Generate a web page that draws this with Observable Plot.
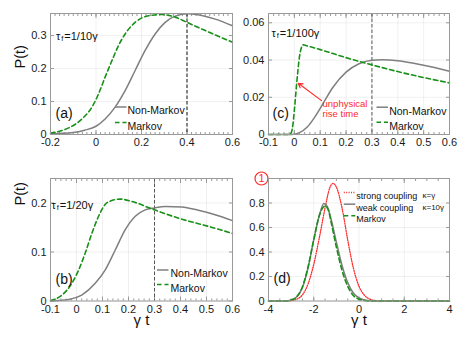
<!DOCTYPE html>
<html><head><meta charset="utf-8">
<script src="https://cdn.jsdelivr.net/npm/d3@7"></script>
<script src="https://cdn.jsdelivr.net/npm/@observablehq/plot@0.6"></script>
<style>
body{margin:0;background:#fff;}
#fig{position:relative;width:463px;height:350px;overflow:hidden;background:#fff;}
#fig svg{position:absolute;}
</style></head><body><div id="fig"></div>
<script>
// ---------- Panel (a): tau_f = 1/10 gamma ----------
const xTicksA = [-0.2, 0, 0.2, 0.4, 0.6];
const yTicksA = [0, 0.1, 0.2, 0.3];
const tNonMarkovA = [-0.2,-0.1,-0.05,0,0.04,0.084,0.128,0.172,0.216,0.26,0.304,0.348,0.407,0.465,0.524,0.6];
const pNonMarkovA = [0.002,0.006,0.013,0.025,0.047,0.083,0.133,0.194,0.255,0.305,0.34,0.359,0.366,0.361,0.35,0.33];
const tMarkovA = [-0.2,-0.16,-0.12,-0.062,-0.018,0.011,0.04,0.07,0.099,0.128,0.172,0.23,0.289,0.348,0.4,0.465,0.524,0.6];
const pMarkovA = [0.004,0.01,0.02,0.047,0.083,0.123,0.174,0.224,0.27,0.305,0.34,0.36,0.364,0.356,0.34,0.32,0.302,0.28];
const markerA = [0.4];

// ---------- Panel (b): tau_f = 1/20 gamma ----------
const xTicksB = [-0.1, 0, 0.1, 0.2, 0.3, 0.4, 0.5, 0.6];
const yTicksB = [0, 0.1, 0.2];
const tNonMarkovB = [-0.1,-0.03,0.02,0.072,0.11,0.149,0.187,0.226,0.264,0.3,0.341,0.405,0.469,0.533,0.6];
const pNonMarkovB = [0,0.003,0.012,0.036,0.063,0.104,0.145,0.173,0.186,0.19,0.193,0.192,0.185,0.176,0.164];
const tMarkovB = [-0.1,-0.056,-0.018,0.008,0.033,0.059,0.085,0.11,0.136,0.168,0.213,0.3,0.405,0.51,0.6];
const pMarkovB = [0.001,0.012,0.036,0.063,0.097,0.138,0.173,0.197,0.205,0.208,0.203,0.186,0.167,0.152,0.138];
const markerB = [0.3];

// ---------- Panel (c): tau_f = 1/100 gamma ----------
const xTicksC = [-0.1, 0, 0.1, 0.2, 0.3, 0.4, 0.5, 0.6];
const yTicksC = [0, 0.02, 0.04, 0.06];
const tNonMarkovC = [-0.1,-0.01,0.02,0.05,0.075,0.1,0.125,0.15,0.2,0.25,0.3,0.34,0.4,0.5,0.6];
const pNonMarkovC = [0,0,0.001,0.004,0.0085,0.014,0.02,0.0255,0.0335,0.038,0.0399,0.0401,0.0396,0.0372,0.034];
const tMarkovC = [-0.1,-0.02,-0.012,-0.005,0,0.005,0.01,0.015,0.02,0.027,0.035,0.045,0.1,0.2,0.3,0.4,0.5,0.6];
const pMarkovC = [0,0,0.001,0.006,0.013,0.021,0.029,0.036,0.042,0.0465,0.0482,0.0478,0.0456,0.0413,0.0374,0.0338,0.0306,0.0277];
const markerC = [0.3];
const arrowTailC = [0.105, 0.0182];
const arrowTipC = [0.015, 0.0275];
const noteC = "unphysical\nrise time";
const notePosC = [0.109, 0.0139];

// ---------- Panel (d): coupling comparison ----------
const xTicksD = [-4, -2, 0, 2, 4];
const yTicksD = [0, 0.2, 0.4, 0.6, 0.8];
const yTickCircledD = [1];
const tStrongD = [-4,-3.2,-3,-2.75,-2.5,-2.25,-2,-1.75,-1.5,-1.3,-1.15,-1,-0.75,-0.5,-0.25,0,0.25,0.5,0.75,1,4];
const pStrongD = [0,0,0.003,0.015,0.05,0.14,0.3,0.52,0.76,0.92,0.96,0.93,0.76,0.5,0.27,0.12,0.045,0.013,0.003,0,0];
const tWeakD = [-4,-3.25,-3,-2.75,-2.5,-2.25,-2,-1.75,-1.55,-1.4,-1.25,-1,-0.75,-0.5,-0.25,0,0.25,0.5,1,4];
const pWeakD = [0,0,0.008,0.035,0.11,0.27,0.5,0.7,0.795,0.77,0.68,0.48,0.29,0.15,0.065,0.025,0.008,0.002,0,0];
const tMarkovD = [-4,-3.25,-3,-2.75,-2.5,-2.25,-2,-1.75,-1.5,-1.35,-1.25,-1,-0.75,-0.5,-0.25,0,0.25,0.5,4];
const pMarkovD = [0,0,0.008,0.035,0.115,0.28,0.5,0.7,0.775,0.74,0.66,0.44,0.25,0.12,0.045,0.015,0.004,0,0];

// ---------- styling ----------
const FONT = "'Liberation Sans', Arial, Helvetica, sans-serif";
const GRAY = "#7f7f7f", GREEN = "#179017", RED = "#ff2a2a";
const grayStyle = {stroke: GRAY, strokeWidth: 1.5};
const greenStyle = {stroke: GREEN, strokeWidth: 1.6, strokeDasharray: "4.5,3"};
const redStyle = {stroke: RED, strokeWidth: 1.3, strokeDasharray: "1,1.4"};

const rows = (ts, ps) => ts.map((t, i) => ({t, p: ps[i]}));
const fmt = d => String(d);
const hline = {draw(ctx, l) { ctx.moveTo(0, 0); ctx.lineTo(l, 0); }};

function legendSample(dx, dy, style) {
  return Plot.vector([0], {frameAnchor: "top-left", dx, dy, length: 11.5, rotate: 0, anchor: "start",
    shape: hline, strokeLinecap: "butt", ...style});
}
function label(text, dx, dy, opts = {}) {
  return Plot.text([text], {frameAnchor: "top-left", dx, dy, text: d => d, textAnchor: "start",
    fontSize: 10.5, fill: "#111", ...opts});
}
function tauLabel(rest, dx, dy) {
  return [
    label("τ", dx, dy, {fontSize: 11}),
    label("f", dx + 5.3, dy + 3.5, {fontSize: 7.5}),
    label(rest, dx + 8.3, dy, {fontSize: 11})
  ];
}
function minor(domain, step) {
  return d3.range(Math.ceil(domain[0] / step - 1e-9), Math.floor(domain[1] / step + 1e-9) + 1).map(k => +(k * step).toFixed(6));
}

function panel(cfg) {
  const {left, top, width, height, mL, mR, mT, mB, xDomain, yDomain, xTicks, yTicks, xStep, marks} = cfg;
  const xMinor = minor(xDomain, xStep);
  const svg = Plot.plot({
    width, height, marginLeft: mL, marginRight: mR, marginTop: mT, marginBottom: mB,
    x: {domain: xDomain, label: null},
    y: {domain: yDomain, label: null},
    style: {fontFamily: FONT, background: "transparent", overflow: "visible", maxWidth: "none",
      left: left + "px", top: top + "px"},
    marks: [
      Plot.gridX(xTicks, {stroke: "#000", strokeOpacity: 0.06}),
      Plot.gridY(yTicks, {stroke: "#000", strokeOpacity: 0.06}),
      Plot.axisX(xMinor, {anchor: "bottom", tickSize: -2, tickFormat: () => "", stroke: "#999", label: null}),
      Plot.axisX(xMinor, {anchor: "top", tickSize: -2, tickFormat: () => "", stroke: "#999", label: null}),
      Plot.axisX(xTicks, {anchor: "top", tickSize: -4, tickFormat: () => "", stroke: "#999", label: null}),
      Plot.axisY(yTicks, {anchor: "right", tickSize: -4, tickFormat: () => "", stroke: "#999", label: null}),
      Plot.axisX(xTicks, {anchor: "bottom", tickSize: -4, tickPadding: 8, tickFormat: fmt, stroke: "#999",
        fill: "#1a1a1a", fontSize: 11, label: null}),
      Plot.axisY(yTicks, {anchor: "left", tickSize: -4, tickPadding: 8, tickFormat: fmt, stroke: "#999",
        fill: "#1a1a1a", fontSize: 11, label: null}),
      ...marks,
      Plot.frame({stroke: "#9a9a9a"})
    ]
  });
  document.getElementById("fig").appendChild(svg);
}

const vrule = (xs, color) => Plot.ruleX(xs, {stroke: color, strokeWidth: 1, strokeDasharray: "3.5,2"});
const yLabel = dy => Plot.text(["P(t)"], {frameAnchor: "top-left", dx: -36, dy, text: d => d, rotate: -90,
  fontSize: 14.5, fill: "#111"});
const xLabel = Plot.text(["γ t"], {frameAnchor: "bottom", dy: 24, text: d => d, fontSize: 15, fill: "#111"});

// (a)
panel({left: 0, top: 0, width: 236, height: 160, mL: 50, mR: 4, mT: 13, mB: 26,
  xDomain: [-0.2, 0.6], yDomain: [0, 0.367], xTicks: xTicksA, yTicks: yTicksA, xStep: 0.02,
  marks: [
    vrule(markerA, "#111"),
    Plot.line(rows(tNonMarkovA, pNonMarkovA), {x: "t", y: "p", curve: "monotone-x", ...grayStyle}),
    Plot.line(rows(tMarkovA, pMarkovA), {x: "t", y: "p", curve: "monotone-x", ...greenStyle}),
    yLabel(55),
    ...tauLabel("=1/10γ", 5.5, 19),
    label("(a)", 5, 95, {fontSize: 14}),
    legendSample(64.5, 93.5, grayStyle),
    legendSample(64.5, 109, greenStyle),
    label("Non-Markov", 77, 93.5),
    label("Markov", 77, 109)
  ]});

// (c)
panel({left: 236, top: 0, width: 227, height: 160, mL: 32, mR: 14, mT: 13, mB: 26,
  xDomain: [-0.1, 0.6], yDomain: [0, 0.065], xTicks: xTicksC, yTicks: yTicksC, xStep: 0.02,
  marks: [
    vrule(markerC, "#555"),
    Plot.line(rows(tNonMarkovC, pNonMarkovC), {x: "t", y: "p", curve: "monotone-x", ...grayStyle}),
    Plot.line(rows(tMarkovC, pMarkovC), {x: "t", y: "p", curve: "monotone-x", ...greenStyle}),
    Plot.arrow([0], {x1: arrowTailC[0], y1: arrowTailC[1], x2: arrowTipC[0], y2: arrowTipC[1],
      stroke: RED, strokeWidth: 1.2, headLength: 6}),
    Plot.text([noteC], {x: notePosC[0], y: notePosC[1], text: d => d, textAnchor: "start",
      fontSize: 9.5, lineHeight: 1.1, fill: RED}),
    ...tauLabel("=1/100γ", 3, 15.5),
    label("(c)", 4, 95, {fontSize: 14}),
    legendSample(108, 93.7, grayStyle),
    legendSample(108, 108.7, greenStyle),
    label("Non-Markov", 120.7, 93.7),
    label("Markov", 120.7, 108.7)
  ]});

// (b)
panel({left: 0, top: 160, width: 236, height: 190, mL: 50, mR: 4, mT: 18, mB: 49.5,
  xDomain: [-0.1, 0.6], yDomain: [0, 0.25], xTicks: xTicksB, yTicks: yTicksB, xStep: 0.02,
  marks: [
    vrule(markerB, "#555"),
    Plot.line(rows(tNonMarkovB, pNonMarkovB), {x: "t", y: "p", curve: "monotone-x", ...grayStyle}),
    Plot.line(rows(tMarkovB, pMarkovB), {x: "t", y: "p", curve: "monotone-x", ...greenStyle}),
    yLabel(27),
    xLabel,
    ...tauLabel("=1/20γ", 1, 23),
    label("(b)", 5, 96, {fontSize: 14}),
    legendSample(106.5, 91.5, grayStyle),
    legendSample(106.5, 106, greenStyle),
    label("Non-Markov", 120, 91.5),
    label("Markov", 120, 106)
  ]});

// (d)
panel({left: 236, top: 160, width: 227, height: 190, mL: 32, mR: 14, mT: 18, mB: 49.5,
  xDomain: [-4, 4], yDomain: [0, 1], xTicks: xTicksD, yTicks: yTicksD, xStep: 0.5,
  marks: [
    Plot.axisY(yTickCircledD, {anchor: "left", tickSize: 0, tickPadding: 4, tickFormat: fmt,
      fill: RED, fontSize: 11, label: null}),
    Plot.dot(yTickCircledD, {y: d => d, frameAnchor: "left", dx: -7, r: 6.5, stroke: RED, strokeWidth: 1.2, fill: "none"}),
    Plot.line(rows(tStrongD, pStrongD), {x: "t", y: "p", curve: "monotone-x", ...redStyle}),
    Plot.line(rows(tWeakD, pWeakD), {x: "t", y: "p", curve: "monotone-x", ...grayStyle}),
    Plot.line(rows(tMarkovD, pMarkovD), {x: "t", y: "p", curve: "monotone-x", ...greenStyle}),
    xLabel,
    label("(d)", 5, 95, {fontSize: 14}),
    legendSample(75.3, 14, redStyle),
    legendSample(75.3, 25.7, grayStyle),
    legendSample(75.3, 37.3, greenStyle),
    label("strong coupling", 87.7, 14, {fontSize: 9}),
    label("κ=γ", 154, 14, {fontSize: 8}),
    label("weak coupling", 87.7, 25.7, {fontSize: 9}),
    label("κ=10γ", 154, 25.7, {fontSize: 8}),
    label("Markov", 87.7, 37.3, {fontSize: 9})
  ]});
</script></body></html>
